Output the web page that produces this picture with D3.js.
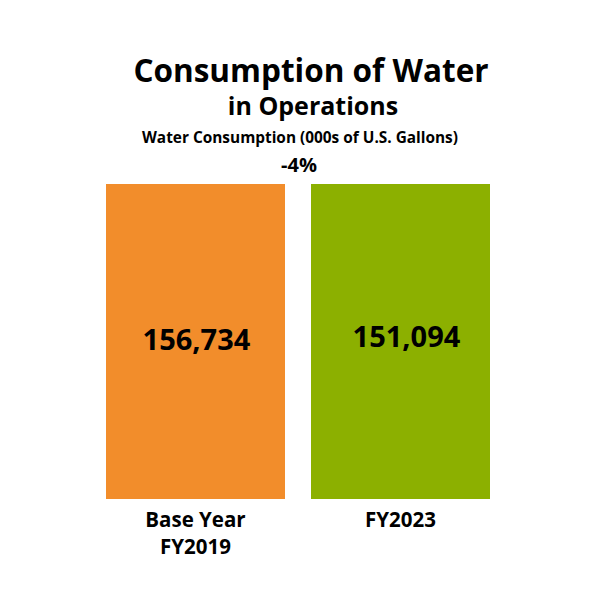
<!DOCTYPE html>
<html>
<head>
<meta charset="utf-8">
<script src="https://cdn.jsdelivr.net/npm/d3@7"></script>
<style>
  html, body { margin: 0; padding: 0; background: #fff; }
  svg { display: block; }
  text { font-family: "Open Sans", sans-serif; font-weight: 700; fill: #000; }
</style>
</head>
<body>
<svg id="chart" width="600" height="600"></svg>
<script>
const categories = ["Base Year FY2019", "FY2023"];
const categoryLines = [["Base Year", "FY2019"], ["FY2023"]];
const values = [156734, 151094];
const colors = ["#F28D2B", "#8CB000"];
const titleLines = ["Consumption of Water", "in Operations"];
const subtitle = "Water Consumption (000s of U.S. Gallons)";
const changeLabel = "-4%";

const svg = d3.select("#chart");

const title = svg.append("text").attr("text-anchor", "middle");
title.append("tspan").attr("x", 311).attr("y", 82)
  .style("font-size", "31.5px").text(titleLines[0]);
title.append("tspan").attr("x", 313).attr("y", 115)
  .style("font-size", "25px").text(titleLines[1]);

svg.append("text").attr("x", 300).attr("y", 143).attr("text-anchor", "middle")
  .style("font-size", "15.4px").text(subtitle);
svg.append("text").attr("x", 299).attr("y", 172).attr("text-anchor", "middle")
  .style("font-size", "20px").text(changeLabel);

const x = d3.scaleBand().domain(categories).range([106, 490])
  .paddingInner(26 / 205).paddingOuter(0);
const y = d3.scaleLinear().domain([0, 1]).range([499, 184]);

const g = svg.append("g");
g.selectAll("rect").data(categories).join("rect")
  .attr("x", d => x(d))
  .attr("y", y(1))
  .attr("width", x.bandwidth())
  .attr("height", y(0) - y(1))
  .attr("fill", (d, i) => colors[i]);

const fmt = d3.format(",");
const valueShift = [[1, 350], [6, 347]];
g.selectAll("text.val").data(categories).join("text")
  .attr("class", "val")
  .attr("x", (d, i) => x(d) + x.bandwidth() / 2 + valueShift[i][0])
  .attr("y", (d, i) => valueShift[i][1])
  .attr("text-anchor", "middle")
  .style("font-size", "29px")
  .text((d, i) => fmt(values[i]));

const labels = g.selectAll("text.cat").data(categories).join("text")
  .attr("class", "cat")
  .attr("text-anchor", "middle")
  .style("font-size", "20.5px");
labels.each(function(d, i) {
  const t = d3.select(this);
  categoryLines[i].forEach((line, j) => {
    t.append("tspan")
      .attr("x", x(d) + x.bandwidth() / 2)
      .attr("y", 527 + j * 27)
      .text(line);
  });
});
</script>
</body>
</html>
